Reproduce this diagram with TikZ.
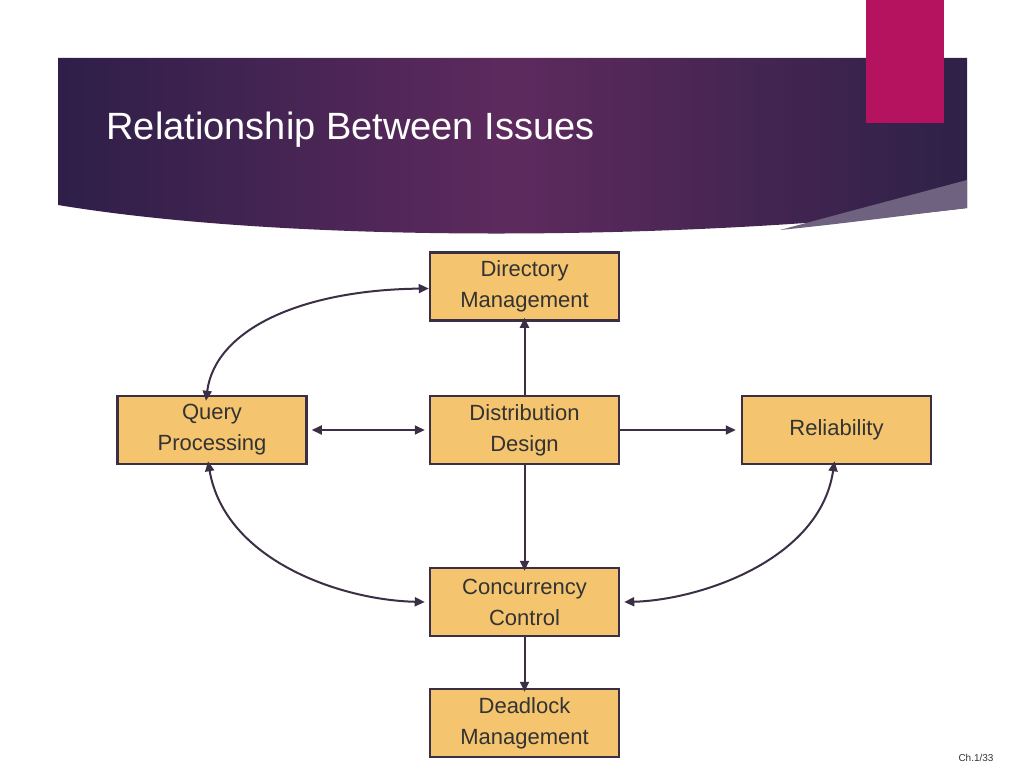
\documentclass[tikz,border=0pt]{standalone}
\usepackage{fontspec}
\setmainfont{Liberation Sans}
\usetikzlibrary{arrows.meta}
\definecolor{boxf}{HTML}{F5C46E}
\definecolor{boxd}{HTML}{3B2F45}
\definecolor{ink}{HTML}{333333}
\definecolor{pinkc}{HTML}{B5135F}
\definecolor{hdA}{HTML}{2E1F48}
\definecolor{hdB}{HTML}{5E2A5E}
\definecolor{hdC}{HTML}{2E2147}
\definecolor{strp}{HTML}{6F6180}
\begin{document}
\begin{tikzpicture}[x=1pt,y=-1pt,
  box/.style={draw=boxd,line width=2.5pt,fill=boxf,minimum width=189pt,minimum height=68pt,
    align=center,font=\fontsize{22}{31}\selectfont,text=ink,inner sep=0pt},
  con/.style={draw=boxd,line width=2pt,-{Triangle[length=10pt,width=9pt]}},
  bi/.style={con,{Triangle[length=10pt,width=9pt]}-{Triangle[length=10pt,width=9pt]}}]
\useasboundingbox (0,0) rectangle (1024,768);
\fill[white] (0,0) rectangle (1024,768);
\shade[left color=hdA, right color=hdC, middle color=hdB]
  (58,58) -- (967,58) -- (967,208) .. controls (700,240) and (300,245) .. (58,205) -- cycle;
\fill[strp] (967,180) -- (967,208) .. controls (900,216) and (840,224) .. (780,230) -- cycle;
\fill[pinkc] (866,0) rectangle (944,123);
\node[anchor=west,text=white,font=\fontsize{38}{44}\selectfont] (title) at (103,130) {Relationship Between Issues};
\node[box] (dir) at (524.5,286.5) {Directory\\Management};
\node[box] (qp) at (212,430) {Query\\Processing};
\node[box] (dd) at (524.5,430) {Distribution\\Design};
\node[box] (rel) at (836.5,430) {Reliability};
\node[box] (cc) at (524.5,602) {Concurrency\\Control};
\node[box] (dl) at (524.5,723) {Deadlock\\Management};
\node[text=ink,font=\fontsize{10}{12}\selectfont] (pg) at (976,758) {Ch.1/33};
\draw[bi] ([yshift=-2pt]dir.west) .. controls (300,290) and (215,330) .. ([xshift=-6pt,yshift=-6pt]qp.north);
\draw[bi] ([xshift=4pt]qp.east) -- ([xshift=-4pt]dd.west);
\draw[con] (dd.north) -- ([yshift=4pt]dir.south);
\draw[con] (dd.east) -- ([xshift=-5pt]rel.west);
\draw[con] (dd.south) -- ([yshift=-4pt]cc.north);
\draw[bi] ([xshift=-4pt,yshift=4pt]qp.south) .. controls (225,560) and (340,600) .. ([xshift=-4pt]cc.west);
\draw[bi] ([xshift=-2pt,yshift=4pt]rel.south) .. controls (820,560) and (700,600) .. ([xshift=4pt]cc.east);
\draw[con] (cc.south) -- ([yshift=-4pt]dl.north);
\end{tikzpicture}
\end{document}
